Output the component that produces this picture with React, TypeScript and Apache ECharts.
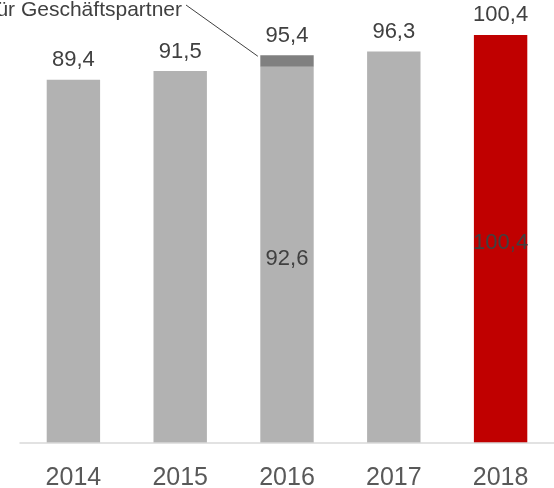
import React, { useEffect, useRef } from "react";
import * as echarts from "echarts";

const years = ["2014", "2015", "2016", "2017", "2018"];
const baseValues = [89.4, 91.5, 92.6, 96.3, 100.4];
const partnerValues = [0, 0, 2.8, 0, 0];
const totals = [89.4, 91.5, 95.4, 96.3, 100.4];
const insideLabelYears = ["2016", "2018"];
const highlightYear = "2018";
const annotationText = "für Geschäftspartner";
const annotationYearIndex = 2;

const FONT = "'Liberation Sans', Arial, sans-serif";
const GRAY = "#b2b2b2";
const DARK = "#808080";
const RED = "#c00000";
const TEXT = "#404040";

const fmt = (v: number) => v.toFixed(1).replace(".", ",");

export default function App() {
  const ref = useRef<HTMLDivElement>(null);
  useEffect(() => {
    if (!ref.current) return;
    const chart = echarts.init(ref.current, null, { renderer: "svg" });
    chart.setOption({
      animation: false,
      grid: { left: 20, right: -9, top: 0, bottom: 44, containLabel: false },
      xAxis: {
        type: "category",
        data: years,
        axisTick: { show: false },
        axisLine: { lineStyle: { color: "#d9d9d9", width: 1.5 } },
        axisLabel: { fontSize: 25, color: "#595959", margin: 20, fontFamily: FONT },
        z: 10,
      },
      yAxis: { type: "value", min: 0, max: 109, show: false, splitLine: { show: false } },
      series: [
        {
          type: "bar",
          stack: "a",
          barWidth: "50%",
          data: baseValues.map((v, i) => ({
            value: v,
            itemStyle: { color: years[i] === highlightYear ? RED : GRAY },
            label: { show: insideLabelYears.includes(years[i]) },
          })),
          label: {
            position: "inside",
            offset: [0, 3],
            fontSize: 22,
            color: TEXT,
            fontFamily: FONT,
            formatter: (p: any) => fmt(p.value),
          },
        },
        {
          type: "bar",
          stack: "a",
          barWidth: "50%",
          data: partnerValues,
          itemStyle: { color: DARK },
        },
        {
          type: "bar",
          barWidth: "50%",
          barGap: "-100%",
          silent: true,
          z: 1,
          data: totals,
          itemStyle: { color: "rgba(0,0,0,0)" },
          label: {
            show: true,
            position: "top",
            distance: 10,
            fontSize: 22,
            color: TEXT,
            fontFamily: FONT,
            formatter: (p: any) => fmt(p.value),
          },
        },
      ],
    });
    const p = chart.convertToPixel({ xAxisIndex: 0, yAxisIndex: 0 }, [
      annotationYearIndex,
      totals[annotationYearIndex],
    ]) as number[];
    const bandWidth = 543 / years.length;
    const endX = p[0] - bandWidth / 4 - 2;
    const endY = p[1] + 1;
    chart.setOption({
      graphic: [
        {
          type: "text",
          x: 182,
          y: 8,
          style: {
            text: annotationText,
            align: "right",
            verticalAlign: "middle",
            fontSize: 21,
            fill: TEXT,
            fontFamily: FONT,
          },
        },
        {
          type: "line",
          shape: { x1: 186, y1: 5, x2: endX, y2: endY },
          style: { stroke: TEXT, lineWidth: 1 },
        },
      ],
    });
    return () => chart.dispose();
  }, []);
  return (
    <div
      ref={ref}
      style={{ position: "fixed", left: 0, top: 0, width: 554, height: 488 }}
    />
  );
}
